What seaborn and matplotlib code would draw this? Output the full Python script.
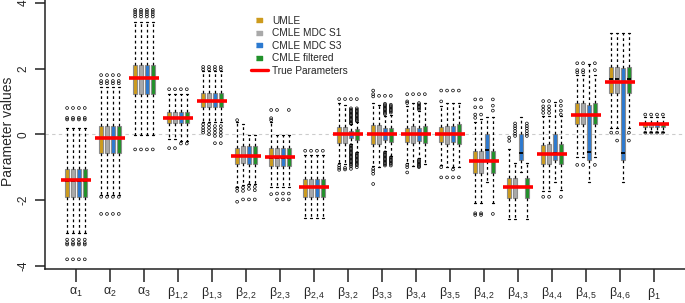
import matplotlib
matplotlib.use("Agg")
import matplotlib.pyplot as plt
from matplotlib.lines import Line2D
import pandas as pd
import seaborn as sns

# parameter names (x tick labels) and the true values (red bars)
params = [r"$\alpha_1$", r"$\alpha_2$", r"$\alpha_3$", r"$\beta_{1,2}$", r"$\beta_{1,3}$",
          r"$\beta_{2,2}$", r"$\beta_{2,3}$", r"$\beta_{2,4}$",
          r"$\beta_{3,2}$", r"$\beta_{3,3}$", r"$\beta_{3,4}$", r"$\beta_{3,5}$",
          r"$\beta_{4,2}$", r"$\beta_{4,3}$", r"$\beta_{4,4}$", r"$\beta_{4,5}$", r"$\beta_{4,6}$",
          r"$\beta_1$"]
true_vals = [-1.4, -0.1, 1.7, 0.5, 1.0, -0.65, -0.7, -1.6, 0.0, 0.0, 0.0, 0.0,
             -0.8, -1.6, -0.6, 0.6, 1.6, 0.3]

methods = ["UMLE", "CMLE MDC S1", "CMLE MDC S3", "CMLE filtered"]
colors = ["#CD9B1D", "#A9A9A9", "#2C7AD0", "#21912A"]

# (whisker low, q1, median, q3, whisker high) for each parameter
umle_box = [
    (-3.00, -1.92, -1.41, -1.06, 0.20), (-1.85, -0.58, -0.10, 0.26, 1.45),
    (-0.02, 1.22, 1.70, 2.10, 3.42), (-0.15, 0.33, 0.50, 0.69, 1.22),
    (0.38, 0.82, 1.00, 1.25, 1.92), (-1.60, -0.91, -0.66, -0.41, 0.36),
    (-1.59, -0.96, -0.71, -0.41, 0.36), (-2.55, -1.92, -1.60, -1.36, -0.63),
    (-0.88, -0.26, 0.00, 0.23, 0.94), (-0.95, -0.30, 0.00, 0.28, 0.95),
    (-0.88, -0.24, 0.00, 0.20, 0.86), (-0.93, -0.24, 0.00, 0.23, 0.86),
    (-2.08, -1.17, -0.82, -0.50, 0.38), (-2.57, -1.95, -1.60, -1.34, -0.46),
    (-1.71, -0.91, -0.61, -0.33, 0.56), (-0.68, 0.31, 0.60, 0.94, 1.80),
    (0.18, 1.26, 1.68, 2.06, 3.07), (0.08, 0.23, 0.30, 0.35, 0.53),
]
s1_box = [
    (-3.00, -1.92, -1.41, -1.06, 0.20), (-1.85, -0.58, -0.10, 0.26, 1.45),
    (-0.02, 1.22, 1.70, 2.10, 3.42), (-0.15, 0.33, 0.50, 0.69, 1.22),
    (0.38, 0.82, 1.00, 1.25, 1.92), (-1.55, -0.88, -0.65, -0.35, 0.31),
    (-1.60, -0.96, -0.71, -0.41, -0.02), (-2.55, -1.92, -1.60, -1.36, -0.63),
    (-0.90, -0.26, 0.00, 0.23, 0.89), (-1.00, -0.30, 0.00, 0.28, 0.90),
    (-0.95, -0.27, 0.00, 0.25, 0.95), (-1.00, -0.28, 0.00, 0.25, 0.95),
    (-2.08, -1.17, -0.82, -0.50, 0.45), (-2.57, -1.95, -1.60, -1.34, -0.86),
    (-1.71, -0.91, -0.60, -0.30, 0.56), (-0.68, 0.31, 0.60, 0.94, 1.80),
    (0.18, 1.26, 1.68, 2.06, 3.07), (0.08, 0.23, 0.30, 0.35, 0.53),
]
s3_box = [
    (-3.00, -1.92, -1.41, -1.06, 0.20), (-1.85, -0.58, -0.10, 0.26, 1.45),
    (-0.02, 1.22, 1.70, 2.10, 3.42), (-0.20, 0.33, 0.50, 0.69, 1.22),
    (0.38, 0.82, 1.00, 1.25, 1.92), (-1.50, -0.91, -0.65, -0.35, -0.02),
    (-1.60, -0.96, -0.71, -0.41, -0.02), (-2.55, -1.92, -1.60, -1.36, -0.63),
    (-0.30, -0.12, 0.00, 0.11, 0.30), (-0.50, -0.17, 0.00, 0.18, 0.55),
    (-0.72, -0.20, 0.00, 0.20, 0.70), (-1.00, -0.24, 0.00, 0.25, 0.95),
    (-1.45, -0.80, -0.48, 0.00, 0.52), (-1.15, -0.78, -0.56, 0.00, 0.52),
    (-1.45, -0.78, -0.56, 0.00, 0.99), (-1.44, -0.78, -0.55, 0.89, 2.13),
    (-1.44, -0.78, -0.56, 2.03, 3.07), (0.08, 0.23, 0.30, 0.35, 0.53),
]
filt_box = [
    (-3.00, -1.92, -1.41, -1.06, 0.20), (-1.85, -0.58, -0.10, 0.26, 1.45),
    (-0.02, 1.22, 1.70, 2.10, 3.42), (-0.20, 0.33, 0.50, 0.69, 1.22),
    (0.38, 0.82, 1.00, 1.25, 1.92), (-1.50, -0.90, -0.65, -0.35, -0.02),
    (-1.60, -0.96, -0.71, -0.41, -0.02), (-2.55, -1.92, -1.60, -1.36, -0.63),
    (-0.55, -0.17, 0.00, 0.15, 0.38), (-0.65, -0.22, 0.00, 0.20, 0.60),
    (-0.90, -0.27, 0.00, 0.25, 0.95), (-1.00, -0.30, 0.00, 0.31, 0.95),
    (-2.08, -1.17, -0.82, -0.50, 0.52), (-2.57, -1.95, -1.60, -1.34, -0.86),
    (-1.70, -0.91, -0.60, -0.30, 0.56), (-0.68, 0.31, 0.60, 0.94, 1.80),
    (0.18, 1.26, 1.68, 2.06, 3.07), (0.08, 0.23, 0.30, 0.35, 0.53),
]

# outlying estimates (circles)
umle_out = [
    [0.80, 0.50, 0.45, -3.20, -3.30, -3.35, -3.80], [1.80, 1.62, 1.55, -1.90, -2.42],
    [3.78, 3.72, 3.65, 3.58, -0.46], [1.37, -0.42],
    [2.05, 1.97, 0.30, 0.20, 0.12, 0.05], [0.43, -1.63, -1.72, -2.05],
    [0.74, 0.49, 0.43, -1.82], [-0.50],
    [1.07, -0.95, -1.02, -1.08], [1.33, 1.22, 1.15, -1.05, -1.12, -1.20, -1.51],
    [1.22, 1.00, 0.95, -0.93, -1.00, -1.16], [1.33, 1.00, -1.00, -1.31],
    [1.06, 0.82, 0.60, 0.50, -2.40, -2.45], [-0.10, -0.20],
    [1.01, 0.85, 0.75, 0.65, -1.90], [2.16, 1.95, 1.88, -0.93],
    [0.05], [0.60, 0.05],
]
s1_out = [
    [0.80, 0.50, 0.45, -3.20, -3.30, -3.35, -3.80], [1.80, 1.62, 1.55, -1.90, -2.42],
    [3.78, 3.72, 3.65, 3.58, -0.46], [1.37, -0.42],
    [2.05, 1.97, 0.30, 0.20, 0.10, 0.00], [-1.62, -1.72, -1.98],
    [0.74, -1.80, -1.98], [-0.50],
    [1.07, -1.02, -1.07], [1.17],
    [1.22], [1.33, -1.31],
    [1.06, 0.82, 0.60, -2.40, -2.45], [0.33, 0.25, 0.18, 0.10, 0.02, -0.05],
    [1.01, 0.85, 0.75, 0.65, -1.90], [2.16, 1.95, 1.88, -0.93],
    [0.05, -0.19], [0.60, 0.05],
]
s3_out = [
    [0.80, 0.50, 0.45, -3.20, -3.30, -3.35, -3.80], [1.80, 1.62, 1.55, -1.90, -2.42],
    [3.78, 3.72, 3.65, 3.58, -0.46], [1.37, -0.28],
    [2.05, 1.97, 0.25, 0.15, 0.05, -0.05, -0.27], [-1.55, -1.66, -1.98],
    [-1.80, -1.98], [-0.50],
    [1.07, 0.79, 0.75, 0.71, 0.67, 0.63, 0.59, 0.55, 0.51, 0.47, 0.43, 0.39, 0.35, 0.32,
     -0.33, -0.37, -0.41, -0.45, -0.49, -0.53, -0.57, -0.61, -0.65, -0.69, -0.73,
     -0.77, -0.81, -0.85, -0.89, -0.93, -0.98, -1.05],
    [1.17, 0.93, 0.89, 0.85, 0.81, 0.77, 0.73, 0.69, 0.65, 0.61,
     -0.55, -0.59, -0.63, -0.67, -0.71, -0.75, -0.79, -0.83, -0.87, -0.91, -0.95],
    [1.22, 0.95, 0.91, 0.87, 0.83, 0.79, 0.75, -0.77, -0.81, -0.85, -0.89, -0.93, -0.97, -1.00],
    [1.33, -1.07, -1.31],
    [], [], [], [], [], [0.60, 0.05],
]
filt_out = [
    [0.80, 0.50, 0.45, -3.20, -3.30, -3.35, -3.80], [1.80, 1.62, 1.55, -1.90, -2.42],
    [3.78, 3.72, 3.65, 3.58, -0.46], [1.37, -0.28],
    [2.05, 1.97, 0.25, 0.15, 0.05, -0.05, -0.27], [-1.60, -1.70, -1.98],
    [0.74, -1.80, -1.98], [-0.50],
    [1.07, 0.79, 0.75, 0.71, 0.67, 0.63, 0.59, 0.55, 0.51, 0.47, 0.43, 0.40,
     -0.58, -0.62, -0.66, -0.70, -0.74, -0.78, -0.82, -0.86, -0.90, -0.94, -1.00],
    [1.17, 0.90, 0.86, 0.82, 0.78, 0.74, 0.70, 0.66,
     -0.70, -0.74, -0.78, -0.82, -0.86, -0.90, -0.95],
    [1.22], [1.33, -1.31],
    [1.06, 0.87, 0.72, -2.42], [0.33, 0.25, 0.18, 0.10, 0.02, -0.05],
    [1.01, 0.87, 0.72, 0.60, -1.90], [2.16, 1.95, -0.93],
    [0.05, -0.19], [0.60, 0.05],
]

all_box = [umle_box, s1_box, s3_box, filt_box]
all_out = [umle_out, s1_out, s3_out, filt_out]
offsets = [-0.26, -0.087, 0.087, 0.26]

sns.set_style("ticks")
plt.rcParams["font.family"] = ["Liberation Sans", "DejaVu Sans"]
plt.rcParams["mathtext.fontset"] = "custom"
plt.rcParams["mathtext.rm"] = "Liberation Sans"
plt.rcParams["mathtext.it"] = "Liberation Sans"

fig = plt.figure(figsize=(6.85, 3.03), dpi=100)
ax = fig.add_axes([45 / 685, 1 - 269 / 303, 1 - 45 / 685, 269 / 303])

ax.axhline(0, color="#cccccc", lw=0.8, ls=(0, (3, 3)), zorder=0)

rows = []
for k in range(4):
    stats = []
    for i, (lo, q1, med, q3, hi) in enumerate(all_box[k]):
        stats.append(dict(whislo=lo, q1=q1, med=med, q3=q3, whishi=hi, fliers=[]))
        for v in all_out[k][i]:
            rows.append({"x": i + offsets[k], "y": v})
    pos = [i + offsets[k] for i in range(len(params))]
    ax.bxp(stats, positions=pos, widths=0.11, capwidths=0.06, patch_artist=True,
           showfliers=False, manage_ticks=False,
           boxprops=dict(facecolor=colors[k], edgecolor="#8c8c8c", lw=0.8),
           whiskerprops=dict(color="black", lw=0.9, ls=(0, (2.2, 2.2))),
           capprops=dict(color="black", lw=0.9),
           medianprops=dict(color="black", lw=1.3))

out_df = pd.DataFrame(rows)
sns.scatterplot(data=out_df, x="x", y="y", ax=ax, marker="o", s=4,
                color="none", edgecolor="black", linewidth=0.5, zorder=3, legend=False)

xs = list(range(len(params)))
ax.hlines(true_vals, [x - 0.43 for x in xs], [x + 0.43 for x in xs],
          color="red", lw=2.6, zorder=6)

ax.set_xlim(-0.91, 17.91)
ax.set_ylim(-4.094, 4.082)
ax.set_xticks(xs)
ax.set_xticklabels(params, fontsize=9)
ax.set_yticks([-4, -2, 0, 2, 4])
ax.set_yticklabels(["-4", "-2", "0", "2", "4"], rotation=90, va="center", fontsize=8.5)
ax.tick_params(axis="x", length=9, width=1.1, pad=3, color="#222222")
ax.tick_params(axis="y", length=7, width=1.1, pad=4, color="#222222")
ax.set_xlabel("")
ax.set_ylabel("")
sns.despine(ax=ax)
for s in ["left", "bottom"]:
    ax.spines[s].set_linewidth(1.1)
    ax.spines[s].set_color("#222222")

fig.text(8 / 685, 1 - 131 / 303, "Parameter values", rotation=90,
         ha="center", va="center", fontsize=10)

rect = [(-1, -0.55), (1, -0.55), (1, 0.55), (-1, 0.55)]
handles = [Line2D([], [], ls="none", marker=rect, markersize=4.5, color=c) for c in colors]
handles.append(Line2D([], [], color="red", lw=2.4))
fig.legend(handles, methods + ["True Parameters"], loc="upper left",
           bbox_to_anchor=(251 / 685, 1 - 16 / 303), frameon=False, fontsize=7.3,
           handlelength=1.64, handletextpad=0.46, labelspacing=0.24,
           borderpad=0, borderaxespad=0)

fig.savefig("out.png", dpi=100)
